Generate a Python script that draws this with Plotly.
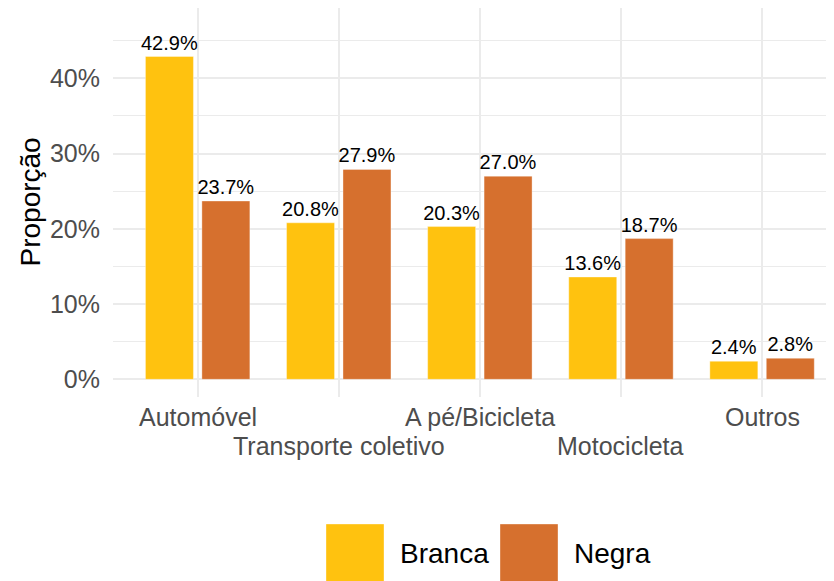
import plotly.graph_objects as go

categories = ["Automóvel", "Transporte coletivo", "A pé/Bicicleta", "Motocicleta", "Outros"]
series_names = ["Branca", "Negra"]
branca = [42.9, 20.8, 20.3, 13.6, 2.4]
negra = [23.7, 27.9, 27.0, 18.7, 2.8]
y_tick_vals = [0, 10, 20, 30, 40]
y_tick_text = ["0%", "10%", "20%", "30%", "40%"]
colors = ["#FFC20F", "#D6702E"]

OFF = 8  # page body margin offset
W, H = 834, 581
L, T = 113 - OFF, 8 - OFF
plot_bottom = 397 - OFF
B = H - plot_bottom
R = 0
pw, ph = W - L - R, H - T - B
unit_px = 141.1
x_right = -0.6 + pw / unit_px

def px_x(x):  # x in page px
    return (x - OFF - L) / pw

def px_y(y):  # y in page px
    return (plot_bottom - (y - OFF)) / ph

FONT = "Liberation Sans, Arial, sans-serif"
GRID = "#EBEBEB"

fig = go.Figure()
idx = list(range(len(categories)))
for name, vals, col in zip(series_names, [branca, negra], colors):
    fig.add_trace(go.Bar(
        x=idx, y=vals, name=name,
        marker=dict(color=col, line=dict(color="rgba(255,255,255,0.6)", width=0.6)),
        text=[f"{v:.1f}%" for v in vals], textposition="outside",
        textfont=dict(family=FONT, size=20, color="black"),
        constraintext="none", cliponaxis=False, showlegend=False,
    ))

fig.update_layout(
    width=W, height=H,
    margin=dict(l=L, r=R, t=T, b=B, autoexpand=False),
    paper_bgcolor="white", plot_bgcolor="white",
    barmode="group", bargap=0.2, bargroupgap=0.15,
    font=dict(family=FONT),
    xaxis=dict(range=[-0.6, x_right], tickvals=idx, ticktext=[""] * len(idx),
               showgrid=True, gridcolor=GRID, gridwidth=1.9,
               zeroline=False, showline=False, ticks=""),
    yaxis=dict(range=[-2.35, 49.35], tickmode="array", tickvals=y_tick_vals, ticktext=y_tick_text,
               tickfont=dict(family=FONT, size=25, color="#4D4D4D"),
               showgrid=True, gridcolor=GRID, gridwidth=1.9,
               minor=dict(tickvals=[5, 15, 25, 35, 45], showgrid=True, gridcolor=GRID, gridwidth=1.0),
               zeroline=False, showline=False, ticks="", ticklabelstandoff=12),
)

# dodged x tick labels
for i, cat in enumerate(categories):
    yy = 417 if i % 2 == 0 else 446
    fig.add_annotation(x=i, xref="x", y=px_y(yy), yref="paper", text=cat, showarrow=False,
                       xanchor="center", yanchor="middle",
                       font=dict(family=FONT, size=25, color="#4D4D4D"))

# y axis title
fig.add_annotation(x=px_x(30), xref="paper", y=0.5, yref="paper", text="Proporção",
                   showarrow=False, textangle=-90, xanchor="center", yanchor="middle",
                   font=dict(family=FONT, size=28, color="black"))

# legend
key_x = [326, 500]
text_x = [398, 572]
for name, col, kx, tx in zip(series_names, colors, key_x, text_x):
    fig.add_shape(type="rect", xref="paper", yref="paper",
                  x0=px_x(kx), x1=px_x(kx + 58), y0=px_y(524), y1=px_y(582),
                  fillcolor=col, line=dict(color="rgba(255,255,255,0.6)", width=0.6))
    fig.add_annotation(x=px_x(tx), xref="paper", y=px_y(553), yref="paper", text=name,
                       showarrow=False, xanchor="left", yanchor="middle",
                       font=dict(family=FONT, size=28, color="black"))

fig.write_html("out.html")
